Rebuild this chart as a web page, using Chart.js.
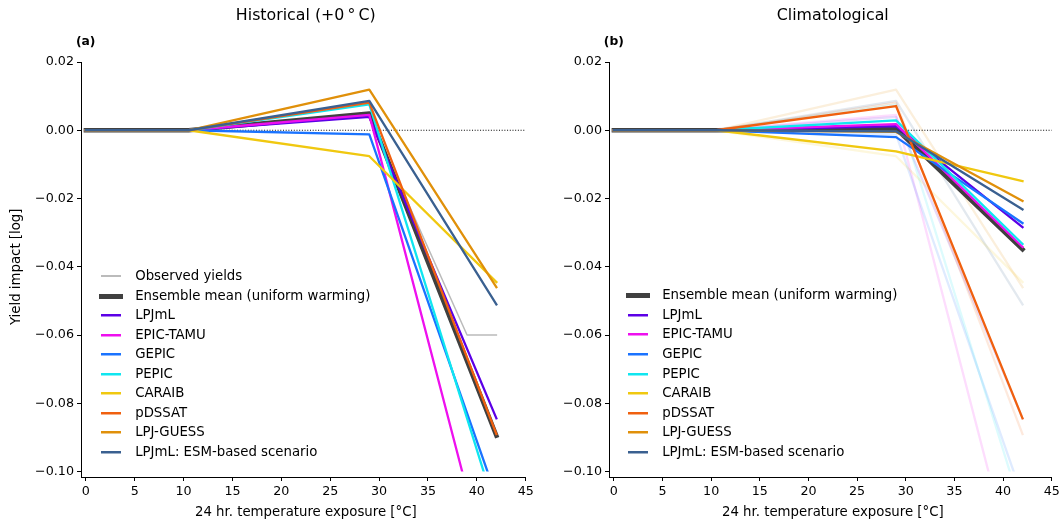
<!DOCTYPE html>
<html>
<head>
<meta charset="utf-8">
<script src="https://cdn.jsdelivr.net/npm/chart.js@4.4.1/dist/chart.umd.min.js"></script>
<style>
  body { margin: 0; background: #fff; width: 1063px; height: 525px; overflow: hidden; position: relative; font-family: "DejaVu Sans", sans-serif; }
  canvas { position: absolute; top: 0; }
  .row { position: absolute; height: 20px; line-height: 20px; white-space: nowrap; font-size: 13.3px; color: #000; }
  .sw { position: absolute; }
</style>
</head>
<body>
<canvas id="histChart" width="540" height="525" style="left:0px"></canvas>
<canvas id="climChart" width="528" height="525" style="left:535px"></canvas>
<div id="legendHist"></div>
<div id="legendClim"></div>
<script>
// bins of 24 hr temperature exposure (°C)
const binsModel = [0, 10.5, 29, 42];
const binsObserved = [0, 10.5, 29, 39, 42];
const xTicks = [0, 5, 10, 15, 20, 25, 30, 35, 40, 45];
const yTicks = [-0.1, -0.08, -0.06, -0.04, -0.02, 0, 0.02];

const models = ['LPJmL', 'EPIC-TAMU', 'GEPIC', 'PEPIC', 'CARAIB', 'pDSSAT', 'LPJ-GUESS', 'LPJmL: ESM-based scenario'];
const modelColors = ['#5c00e6', '#ee10ee', '#1a73ff', '#10e6f0', '#f0c810', '#f0600f', '#e0900a', '#3a6090'];

// (a) Historical (+0 °C)
const observedYields = [0, 0, 0.004, -0.06, -0.06];
const histEnsemble = [0, 0, 0.0049, -0.0895];
const histLPJmL    = [0, 0, 0.0039, -0.0844];
const histEpicTamu = [0, 0, 0.0045, -0.1385];
const histGepic    = [0, 0, -0.0012, -0.1074];
const histPepic    = [0, 0, 0.0076, -0.112];
const histCaraib   = [0, 0, -0.0076, -0.0445];
const histPdssat   = [0, 0, 0.0081, -0.089];
const histLpjGuess = [0, 0, 0.0119, -0.046];
const histEsm      = [0, 0, 0.0086, -0.051];

// (b) Climatological
const climEnsemble = [0, 0, 0.0005, -0.0349];
const climLPJmL    = [0, 0, 0.0012, -0.0284];
const climEpicTamu = [0, 0, 0.0018, -0.0342];
const climGepic    = [0, 0, -0.002, -0.0272];
const climPepic    = [0, 0, 0.0029, -0.0333];
const climCaraib   = [0, 0, -0.0062, -0.0149];
const climPdssat   = [0, 0, 0.0071, -0.0844];
const climLpjGuess = [0, 0, -0.0005, -0.0207];
const climEsm      = [0, 0, -0.0003, -0.0232];

const histSeries = [histLPJmL, histEpicTamu, histGepic, histPepic, histCaraib, histPdssat, histLpjGuess, histEsm];
const climSeries = [climLPJmL, climEpicTamu, climGepic, climPepic, climCaraib, climPdssat, climLpjGuess, climEsm];

const FONT = '"DejaVu Sans", sans-serif';

function fade(hex, a) {
  const n = parseInt(hex.slice(1), 16);
  return 'rgba(' + (n >> 16) + ',' + ((n >> 8) & 255) + ',' + (n & 255) + ',' + a + ')';
}

function line(label, xs, ys, color, width) {
  return {
    label: label,
    data: xs.map((x, i) => ({ x: x, y: ys[i] })),
    borderColor: color,
    borderWidth: width,
    pointRadius: 0,
    tension: 0,
    fill: false,
    borderCapStyle: 'square',
    borderJoinStyle: 'round',
    clip: { left: 0, top: 0, right: 5, bottom: -5.5 }
  };
}

function zeroLine() {
  const d = line('zero', [0, 45], [0, 0], '#000', 1);
  d.borderDash = [1, 1.7];
  d.borderCapStyle = 'butt';
  return d;
}

// order: later entries drawn on top
function withOrder(list) {
  list.forEach((d, i) => { d.order = list.length - i; });
  return list;
}

const histDatasets = withOrder([
  zeroLine(),
  line('Observed yields', binsObserved, observedYields, '#bbbbbb', 1.5),
  line('Ensemble mean (uniform warming)', binsModel, histEnsemble, '#404040', 4.5),
  ...histSeries.map((s, i) => line(models[i], binsModel, s, modelColors[i], 2.3))
]);

const climDatasets = withOrder([
  ...histSeries.map((s, i) => line(models[i] + ' (historical)', binsModel, s, fade(modelColors[i], 0.14), 2.3)),
  zeroLine(),
  line('Ensemble mean (uniform warming)', binsModel, climEnsemble, '#404040', 4.5),
  ...climSeries.map((s, i) => line(models[i], binsModel, s, modelColors[i], 2.3))
]);

const panelText = {
  id: 'panelText',
  afterDraw(chart, args, opts) {
    const ctx = chart.ctx;
    const x = chart.scales.x;
    const x0 = x.getPixelForValue(0), x1 = x.getPixelForValue(45);
    const cx = (x0 + x1) / 2;
    ctx.save();
    ctx.fillStyle = '#000';
    ctx.textAlign = 'center';
    ctx.textBaseline = 'alphabetic';
    ctx.font = '15.8px ' + FONT;
    ctx.fillText(opts.title, cx, 19.5);
    ctx.font = '13.3px ' + FONT;
    ctx.fillText('24 hr. temperature exposure [°C]', cx, 515.5);
    ctx.textAlign = 'left';
    ctx.font = 'bold 12.3px ' + FONT;
    ctx.fillText(opts.letter, x0 - 10, 45);
    if (opts.ylabel) {
      const y = chart.scales.y;
      const cy = (y.getPixelForValue(0.02) + y.getPixelForValue(-0.1)) / 2;
      ctx.translate(20, cy);
      ctx.rotate(-Math.PI / 2);
      ctx.textAlign = 'center';
      ctx.font = '13.3px ' + FONT;
      ctx.fillText(opts.ylabel, 0, 0);
    }
    ctx.restore();
  }
};

function makeChart(id, datasets, yWidth, padRight, text) {
  return new Chart(document.getElementById(id), {
    type: 'line',
    data: { datasets: datasets },
    options: {
      responsive: false,
      animation: false,
      events: [],
      layout: { padding: { top: 62, right: padRight, bottom: 0, left: 0 } },
      plugins: { legend: { display: false }, tooltip: { enabled: false }, panelText: text },
      scales: {
        x: {
          type: 'linear', min: -0.5, max: 45,
          afterBuildTicks: s => { s.ticks = xTicks.map(v => ({ value: v })); },
          afterFit: s => { s.height = 48; },
          grid: { drawOnChartArea: false, tickLength: 4, tickColor: '#000', tickWidth: 1 },
          border: { color: '#000', width: 1 },
          ticks: { color: '#000', font: { family: FONT, size: 12.7 }, padding: 3, maxRotation: 0, autoSkip: false }
        },
        y: {
          type: 'linear', min: -0.1016, max: 0.02,
          afterBuildTicks: s => { s.ticks = yTicks.map(v => ({ value: v })); },
          afterFit: s => { s.width = yWidth; },
          grid: { drawOnChartArea: false, tickLength: 4, tickColor: '#000', tickWidth: 1 },
          border: { color: '#000', width: 1 },
          ticks: {
            color: '#000', font: { family: FONT, size: 12.7 }, padding: 3, autoSkip: false,
            callback: v => (v < 0 ? '\u2212' : '') + Math.abs(v).toFixed(2)
          }
        }
      }
    },
    plugins: [panelText]
  });
}

makeChart('histChart', histDatasets, 81, 14.3, { title: 'Historical (+0\u2009\u00b0\u2009C)', letter: '(a)', ylabel: 'Yield impact [log]' });
makeChart('climChart', climDatasets, 74, 11.3, { title: 'Climatological', letter: '(b)' });

// legends (HTML), placed inside the lower-left of each panel
function buildLegend(el, swLeft, firstCenter, entries) {
  entries.forEach((e, i) => {
    const top = Math.round(firstCenter + i * 19.55 - 10);
    const row = document.createElement('div');
    row.className = 'row';
    row.style.left = swLeft + 'px';
    row.style.top = top + 'px';
    const sw = document.createElement('div');
    sw.className = 'sw';
    sw.style.left = (e.w > 21 ? -1.7 : 0) + 'px';
    sw.style.width = e.w + 'px';
    sw.style.height = e.t + 'px';
    sw.style.top = Math.round(10 - e.t / 2) + 'px';
    sw.style.background = e.c;
    if (e.t === 2) sw.style.boxShadow = '0 0.5px 0.6px ' + e.c;
    const tx = document.createElement('span');
    tx.style.position = 'absolute';
    tx.style.left = '34.5px';
    tx.textContent = e.label;
    row.appendChild(sw);
    row.appendChild(tx);
    el.appendChild(row);
  });
}

const modelEntries = models.map((m, i) => ({ label: m, c: modelColors[i], w: 20.6, t: 2 }));
const ensembleEntry = { label: 'Ensemble mean (uniform warming)', c: '#404040', w: 23.7, t: 5 };

buildLegend(document.getElementById('legendHist'), 100.7, 276,
  [{ label: 'Observed yields', c: '#bbbbbb', w: 20, t: 1.5 }, ensembleEntry, ...modelEntries]);
buildLegend(document.getElementById('legendClim'), 627.7, 295.3, [ensembleEntry, ...modelEntries]);
</script>
</body>
</html>
